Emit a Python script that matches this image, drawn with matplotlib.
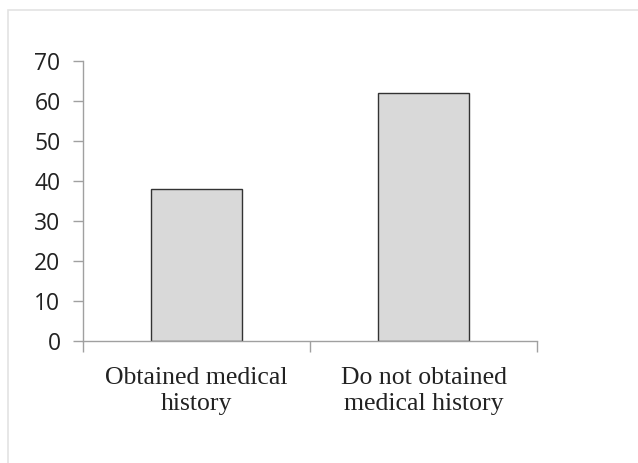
import matplotlib
matplotlib.use("Agg")
import matplotlib.pyplot as plt
from matplotlib.patches import Rectangle

categories = ["Obtained medical\nhistory", "Do not obtained\nmedical history"]
values = [38, 62]
yticks = [0, 10, 20, 30, 40, 50, 60, 70]

fig = plt.figure(figsize=(6.38, 4.63), dpi=100)
fig.patch.set_facecolor("white")

# light frame around the chart area
fig.add_artist(Rectangle((8 / 638, -0.01), 1.0, 1 - 10 / 463 + 0.01,
                         transform=fig.transFigure, fill=False,
                         edgecolor="#e3e3e3", linewidth=1.2))

ax = fig.add_axes([83 / 638, 1 - 341 / 463, (537 - 83) / 638, (341 - 61) / 463])
x = list(range(len(values)))
ax.bar(x, values, width=0.405, color="#d9d9d9", edgecolor="#333333", linewidth=1.0)

ax.set_xlim(-0.5, len(values) - 0.5)
ax.set_ylim(0, 70)
ax.set_yticks(yticks)
ax.set_yticklabels([str(v) for v in yticks], fontfamily="Open Sans", fontsize=16.5, color="#222222")

# category boundaries carry the tick marks; labels sit at the centres
ax.set_xticks([-0.5 + i for i in range(len(values) + 1)])
ax.set_xticklabels([])
ax.set_xticks(x, minor=True)
ax.set_xticklabels(categories, minor=True, fontfamily="Liberation Serif", fontsize=18.5,
                   color="#222222", linespacing=1.22)
ax.tick_params(axis="x", which="minor", length=0, pad=19)
ax.tick_params(axis="x", which="major", length=8, color="#a0a0a0", width=1)
ax.tick_params(axis="y", length=7.2, color="#a0a0a0", width=1, pad=9)

for s in ["top", "right"]:
    ax.spines[s].set_visible(False)
for s in ["left", "bottom"]:
    ax.spines[s].set_color("#a0a0a0")
    ax.spines[s].set_linewidth(1)

fig.savefig("out.png", dpi=100)
